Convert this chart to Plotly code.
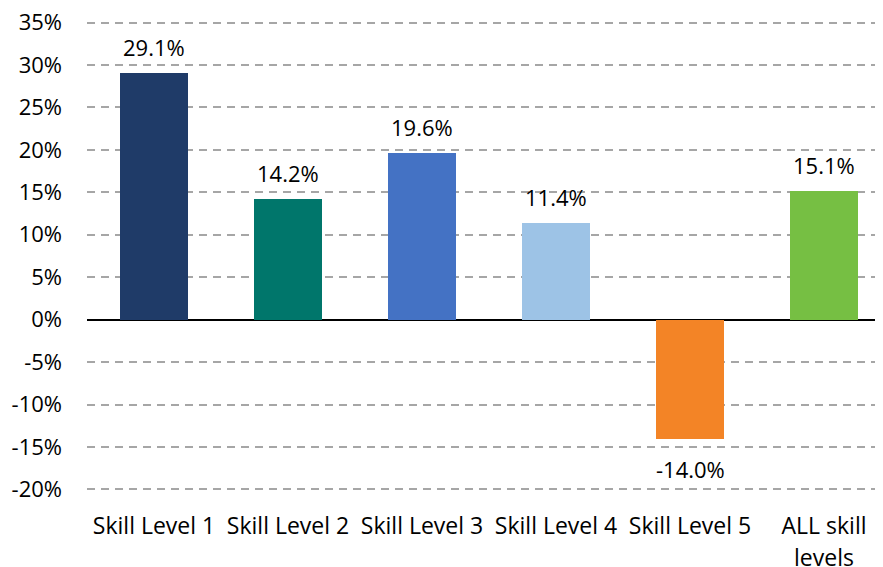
import plotly.graph_objects as go

categories = ["Skill Level 1", "Skill Level 2", "Skill Level 3", "Skill Level 4", "Skill Level 5", "ALL skill levels"]
values = [29.1, 14.2, 19.6, 11.4, -14.0, 15.1]
colors = ["#1F3B68", "#00766B", "#4472C4", "#9DC3E6", "#F38426", "#76BF43"]
y_ticks = [-20, -15, -10, -5, 0, 5, 10, 15, 20, 25, 30, 35]

FONT = "Open Sans"
FS = 22
FS_CAT = 23

x_pos = list(range(len(categories)))

# the last category wraps onto two lines
tick_text = []
second_lines = []
for i, c in enumerate(categories):
    if c.startswith("ALL"):
        words = c.split(" ")
        tick_text.append(" ".join(words[:2]))
        second_lines.append((i, " ".join(words[2:])))
    else:
        tick_text.append(c)

fig = go.Figure()
fig.add_trace(go.Bar(
    x=x_pos, y=values, marker=dict(color=colors, line=dict(width=0)),
    width=0.507, hoverinfo="skip", showlegend=False,
))

for xi, v in zip(x_pos, values):
    fig.add_annotation(
        x=xi, y=v, text=f"{v:.1f}%", showarrow=False,
        yanchor="bottom" if v >= 0 else "top",
        yshift=9 if v >= 0 else -13,
        font=dict(family=FONT, size=FS, color="#000000"),
    )

for xi, txt in second_lines:
    fig.add_annotation(
        x=xi, y=y_ticks[0], text=txt, showarrow=False,
        yanchor="middle", yshift=-68,
        font=dict(family=FONT, size=FS_CAT, color="#000000"),
    )

fig.update_layout(
    width=875, height=559,
    margin=dict(l=79, r=0, t=12, b=75),
    paper_bgcolor="white", plot_bgcolor="white",
    font=dict(family=FONT, size=FS, color="#000000"),
    bargap=0,
)
fig.update_xaxes(
    range=[-0.5, 5.44], tickmode="array", tickvals=x_pos, ticktext=tick_text,
    tickfont=dict(size=FS_CAT),
    showgrid=False, zeroline=False, showline=False, ticks="",
    ticklabelstandoff=18, automargin=False, ticklabeloverflow="allow",
)
fig.update_yaxes(
    range=[-20.3, 35.3], tickmode="array", tickvals=y_ticks,
    ticktext=[f"{t}%" for t in y_ticks],
    showgrid=True, gridcolor="#A6A6A6", gridwidth=2, griddash="8px,6px",
    zeroline=True, zerolinecolor="#000000", zerolinewidth=1.5,
    showline=False, ticks="", ticklabelstandoff=24, automargin=False,
    ticklabeloverflow="allow",
)

fig.write_html("out.html")
